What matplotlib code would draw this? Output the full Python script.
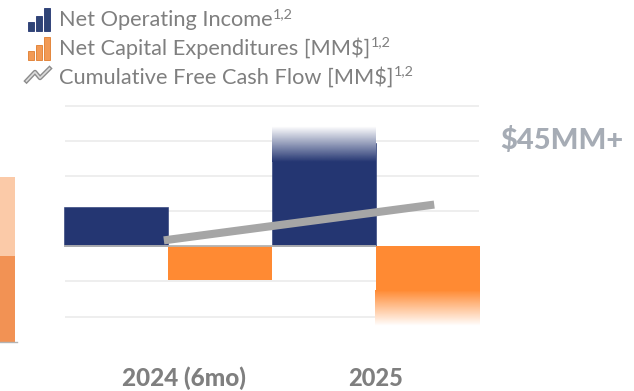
import matplotlib
matplotlib.use("Agg")
import matplotlib.pyplot as plt
from matplotlib.colors import to_rgb
from matplotlib.patches import Rectangle
import numpy as np

W, H = 634, 391

# values
positions = [0, 1]
noi = [11.3, 29.4]
capex = [-9.6, -12.6]
fcf_x = [-0.02, 1.28]
fcf_y = [1.7, 11.9]
noi_fade = (24, 34)
capex_fade = (-12.6, -22.7)
grid_vals = [-20, -10, 10, 20, 30, 40]
left_stack = [79, 86]  # clipped chart on the far left

NAVY = "#243672"
ORANGE = "#ff8a33"
GRAY_TXT = "#7f7f7f"

plt.rcParams["font.family"] = ["Lato", "DejaVu Sans"]


def px_axes(x0, y0, x1, y1):
    return fig.add_axes([x0 / W, 1 - y1 / H, (x1 - x0) / W, (y1 - y0) / H])


def fade(ax, x0, x1, y_solid, y_clear, color):
    # white patch first, then a vertical gradient from y_solid to y_clear
    low, high = sorted([y_solid, y_clear])
    ax.add_patch(Rectangle((x0, low), x1 - x0, high - low, facecolor="white", edgecolor="none", zorder=2.5,
                           clip_on=False))
    rgba = np.zeros((64, 1, 4))
    rgba[..., :3] = to_rgb(color)
    rgba[:, 0, 3] = np.linspace(1, 0, 64)
    ax.imshow(rgba, extent=(x0, x1, y_clear, y_solid), origin="upper", aspect="auto",
              interpolation="bilinear", zorder=2.6, clip_on=False)


fig = plt.figure(figsize=(W / 100, H / 100), dpi=100, facecolor="white")

# main chart
ax = px_axes(64, 106, 480, 316.5)
ax.hlines(grid_vals, -0.495, 1.495, color="#ededed", lw=1.3, zorder=0, clip_on=False)
ax.bar([p - 0.25 for p in positions], noi, width=0.5, color=NAVY, edgecolor=NAVY, lw=0.4, zorder=2)
ax.bar([positions[0] + 0.25], capex[:1], width=0.5, color=ORANGE, zorder=2)
ax.bar([positions[1] + 0.25], capex[1:], width=0.5, color=ORANGE, zorder=2.7, clip_on=False)
fade(ax, 0.5, 1.0, noi_fade[0], noi_fade[1], NAVY)
fade(ax, 0.997, 1.497, capex_fade[0], capex_fade[1], ORANGE)
ax.hlines(0, -0.5, 1.0, color="#b3b3b3", lw=1.3, zorder=3)
ax.plot(fcf_x, fcf_y, color="#a6a6a6", lw=5.8, solid_capstyle="butt", zorder=4, clip_on=False)
ax.set_xlim(-0.5, 1.5)
ax.set_ylim(-20, 40)
ax.axis("off")

# piece of the neighbouring chart, cut by the image edge
ax2 = px_axes(0, 177, 15, 342)
ax2.bar([0], [left_stack[1]], width=1, color="#f29254")
ax2.bar([0], [left_stack[0]], bottom=left_stack[1], width=1, color="#fbcaa8")
ax2.set_xlim(-0.5, 0.5)
ax2.set_ylim(0, sum(left_stack))
ax2.axis("off")

# overlay in pixel coordinates for legend and text
ov = fig.add_axes([0, 0, 1, 1], zorder=10)
ov.set_xlim(0, W)
ov.set_ylim(H, 0)
ov.axis("off")
ov.patch.set_alpha(0)
ov.plot([0, 17], [342, 342], color="#b3b3b3", lw=1)

for top, face, edge in [(8, "#2f4475", NAVY), (37, "#f29a55", "#e07b2c")]:
    base = top + 23
    for x0, wd, hg in [(27.5, 6, 9), (36, 6, 15.5), (44, 6, 23)]:
        ov.add_patch(Rectangle((x0, base - hg), wd, hg, facecolor=face, edgecolor=edge, lw=0.6))

ov.plot([26.5, 35, 40, 49.5], [81, 72, 78, 68.5], color="#8c8c8c", lw=3.2)
ov.plot([26.5, 35, 40, 49.5], [81, 72, 78, 68.5], color="#dcdcdc", lw=1.2)

legend_rows = [
    ("Net Operating Income", 19.5),
    ("Net Capital Expenditures [MM$]", 48.5),
    ("Cumulative Free Cash Flow [MM$]", 77.5),
]
for label, y in legend_rows:
    t = ov.text(59, y, label, fontsize=15.7, color=GRAY_TXT, va="center", ha="left")
    ov.annotate("1,2", xy=(1, 1), xycoords=t, xytext=(0.5, -3), textcoords="offset points",
                fontsize=10.4, color=GRAY_TXT, va="center", ha="left")

ov.text(562, 141, "$45MM+", fontsize=21, fontweight=900, color="#a6acb5", ha="center", va="center")
ov.text(184, 378, "2024 (6mo)", fontsize=17.5, fontweight=900, color=GRAY_TXT, ha="center", va="center")
ov.text(376, 378, "2025", fontsize=17, fontweight=900, color=GRAY_TXT, ha="center", va="center")

fig.savefig("out.png", dpi=100)
